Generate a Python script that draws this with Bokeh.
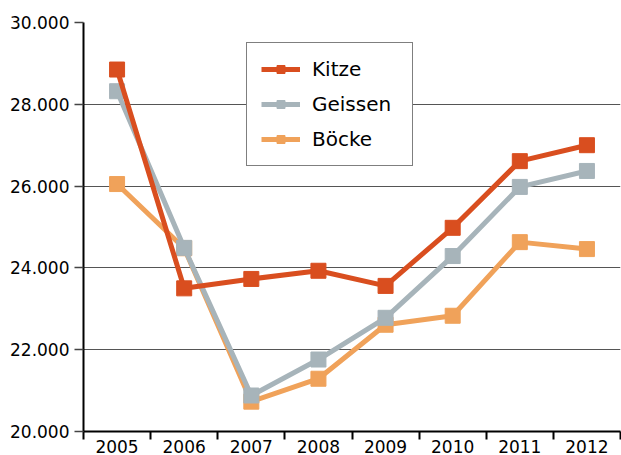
from bokeh.plotting import figure
from bokeh.models import Range1d, FixedTicker, Legend, LegendItem
from bokeh.embed import file_html
from bokeh.resources import INLINE

years = ["2005", "2006", "2007", "2008", "2009", "2010", "2011", "2012"]
kitze = [28850, 23500, 23730, 23930, 23560, 24980, 26610, 27000]
geissen = [28320, 24490, 20880, 21760, 22780, 24290, 25980, 26370]
boecke = [26050, 24480, 20730, 21290, 22610, 22830, 24630, 24460]
y_ticks = [20000, 22000, 24000, 26000, 28000, 30000]
y_tick_labels = ["20.000", "22.000", "24.000", "26.000", "28.000", "30.000"]

series = [
    ("Böcke", boecke, "#F0A25A"),
    ("Geissen", geissen, "#A7B4BA"),
    ("Kitze", kitze, "#D94E1F"),
]

x = [i + 0.5 for i in range(len(years))]

p = figure(width=621, height=455,
           x_range=Range1d(0, len(years)), y_range=Range1d(20000, 30000),
           output_backend="svg", toolbar_location=None,
           min_border_left=83, min_border_top=22, min_border_right=1, min_border_bottom=23)
p.outline_line_color = None
p.background_fill_color = "white"
p.border_fill_color = "white"

# x axis
p.xaxis.ticker = FixedTicker(ticks=x, minor_ticks=list(range(len(years) + 1)))
p.xaxis.major_label_overrides = {xi: y for xi, y in zip(x, years)}
p.xaxis.major_tick_line_color = None
p.xaxis.major_tick_out = 0
p.xaxis.major_tick_in = 0
p.xaxis.minor_tick_out = 8
p.xaxis.minor_tick_in = 0
p.xaxis.minor_tick_line_color = "black"
p.xaxis.minor_tick_line_width = 2
p.xaxis.axis_line_color = "black"
p.xaxis.axis_line_width = 2
p.xaxis.major_label_text_font = "DejaVu Sans"
p.xaxis.major_label_text_font_size = "17px"
p.xaxis.major_label_text_color = "black"
p.xaxis.major_label_standoff = 0
p.xgrid.visible = False

# y axis
p.yaxis.ticker = FixedTicker(ticks=y_ticks)
p.yaxis.major_label_overrides = {t: l for t, l in zip(y_ticks, y_tick_labels)}
p.yaxis.major_tick_out = 9
p.yaxis.major_tick_in = 0
p.yaxis.major_tick_line_color = "#444444"
p.yaxis.major_tick_line_width = 1.5
p.yaxis.minor_tick_line_color = None
p.yaxis.axis_line_color = "black"
p.yaxis.axis_line_width = 2
p.yaxis.major_label_text_font = "DejaVu Sans"
p.yaxis.major_label_text_font_size = "17px"
p.yaxis.major_label_text_color = "black"
p.yaxis.major_label_standoff = 5
p.ygrid.ticker = FixedTicker(ticks=y_ticks)
p.ygrid.grid_line_color = "#555555"
p.ygrid.grid_line_width = 1

items = {}
for name, vals, color in series:
    ln = p.line(x, vals, line_color=color, line_width=5)
    sc = p.scatter(x, vals, marker="square", size=15, fill_color=color, line_color=color)
    items[name] = [ln, sc]

legend = Legend(items=[LegendItem(label=n, renderers=items[n]) for n in ["Kitze", "Geissen", "Böcke"]],
                location=(163, 265))
legend.label_text_font = "DejaVu Sans"
legend.label_text_font_size = "20px"
legend.label_text_color = "black"
legend.glyph_width = 39
legend.glyph_height = 20
legend.label_height = 20
legend.label_width = 86
legend.label_standoff = 12
legend.spacing = 11
legend.padding = 14
legend.margin = 0
legend.border_line_color = "black"
legend.border_line_width = 1
legend.background_fill_color = "white"
legend.background_fill_alpha = 1
p.add_layout(legend, "center")

open("out.html", "w").write(file_html(p, INLINE))
